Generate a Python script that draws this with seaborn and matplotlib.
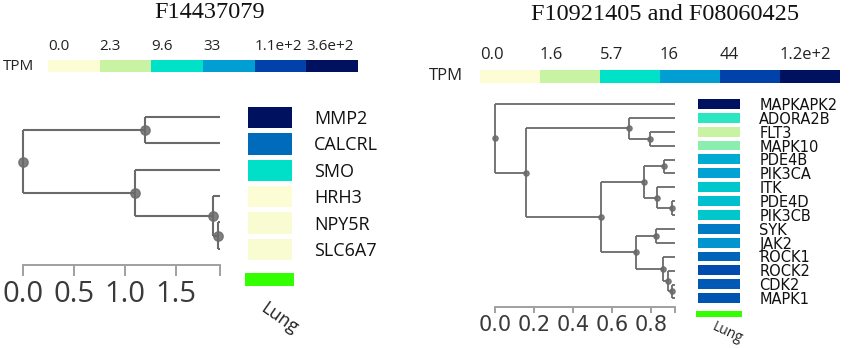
import numpy as np
import pandas as pd
import seaborn as sns
import matplotlib.pyplot as plt
from matplotlib.colors import LinearSegmentedColormap, ListedColormap

# ---- values ----
tissue = "Lung"
tpm_colors = ["#fdfdd5", "#c7f3a3", "#00e2c8", "#009ed3", "#0042a9", "#001160"]

left_title = "F14437079"
left_genes = ["MMP2", "CALCRL", "SMO", "HRH3", "NPY5R", "SLC6A7"]
left_tpm = [360, 66, 10, 0.0, 0.1, 0.1]
left_cbar_labels = ["0.0", "2.3", "9.6", "33", "1.1e+2", "3.6e+2"]
left_cbar_max = 360
# internal nodes n0..n4: distance from root and (child, child); ints are leaf rows
left_node_dist = [0.0, 1.20, 1.10, 1.866, 1.918]
left_node_kids = [("n1", "n2"), (0, 1), (2, "n3"), (3, "n4"), (4, 5)]
left_leaf_dist = 1.934
left_ticks = [0.0, 0.5, 1.0, 1.5]

right_title = "F10921405 and F08060425"
right_genes = ["MAPKAPK2", "ADORA2B", "FLT3", "MAPK10", "PDE4B", "PIK3CA", "ITK",
               "PDE4D", "PIK3CB", "SYK", "JAK2", "ROCK1", "ROCK2", "CDK2", "MAPK1"]
right_tpm = [120, 4.6, 1.6, 2.5, 13.7, 16, 9, 10, 9, 25, 18.6, 31, 41, 35, 37]
right_cbar_labels = ["0.0", "1.6", "5.7", "16", "44", "1.2e+2"]
right_cbar_max = 120
right_node_dist = [0.0, 0.157, 0.689, 0.795, 0.544, 0.766, 0.867, 0.832,
                   0.906, 0.723, 0.826, 0.860, 0.886, 0.906]
right_node_kids = [(0, "n1"), ("n2", "n4"), (1, "n3"), (2, 3), ("n5", "n9"),
                   ("n6", "n7"), (4, 5), (6, "n8"), (7, 8), ("n10", "n11"),
                   (9, 10), (11, "n12"), (12, "n13"), (13, 14)]
right_leaf_dist = 0.923
right_ticks = [0.0, 0.2, 0.4, 0.6, 0.8]

# ---- style ----
sns.set_style("white")
plt.rcParams["font.family"] = ["Open Sans", "DejaVu Sans"]

W, H = 858, 348
fig = plt.figure(figsize=(W / 100, H / 100), dpi=100)


def px_axes(x0, y0, x1, y1):
    return fig.add_axes([x0 / W, 1 - y1 / H, (x1 - x0) / W, (y1 - y0) / H])


def draw_tree(ax, node_dist, node_kids, leaf_dist, n_rows, ticks, lw, dot, col,
              tick_size, tick_family, tick_len, tick_pad):
    def place(k):
        if isinstance(k, int):
            return leaf_dist, k
        i = int(k[1:])
        (xa, ya), (xb, yb) = place(node_kids[i][0]), place(node_kids[i][1])
        x = node_dist[i]
        y = (ya + yb) / 2
        ax.plot([x, x], [ya, yb], color=col, lw=lw, solid_capstyle="butt", clip_on=False)
        ax.plot([x, xa], [ya, ya], color=col, lw=lw, solid_capstyle="butt", clip_on=False)
        ax.plot([x, xb], [yb, yb], color=col, lw=lw, solid_capstyle="butt", clip_on=False)
        ax.scatter([x], [y], s=dot, color=col, alpha=0.85, zorder=3, clip_on=False)
        return x, y

    place("n0")
    ax.set_xlim(0, leaf_dist)
    ax.set_ylim(n_rows - 0.38, -0.5)
    ax.set_yticks([])
    ax.set_xticks(ticks + [leaf_dist])
    ax.set_xticklabels([f"{t:.1f}" for t in ticks] + [""], family=tick_family)
    for side in ["left", "top", "right"]:
        ax.spines[side].set_visible(False)
    ax.spines["bottom"].set_color("#a0a0a0")
    ax.spines["bottom"].set_linewidth(1.4)
    ax.tick_params(axis="x", bottom=True, length=tick_len, width=1.4, color="#a0a0a0",
                   labelsize=tick_size, labelcolor="#3a3a3a", pad=tick_pad)


def draw_cells(ax, genes, tpm, vmax, lw, size, pad, family):
    df = pd.DataFrame({"TPM": np.log1p(tpm)}, index=genes)
    cmap = LinearSegmentedColormap.from_list("tpm", tpm_colors)
    sns.heatmap(df, ax=ax, cmap=cmap, vmin=0, vmax=np.log1p(vmax), cbar=False,
                linewidths=lw, linecolor="white", xticklabels=False, yticklabels=True)
    ax.set_ylabel("")
    ax.tick_params(axis="y", left=False, right=False, labelleft=False, labelright=True,
                   labelrotation=0, pad=pad, labelsize=size)
    for tk in ax.yaxis.get_major_ticks():
        tk.label2.set_family(family)
        tk.label2.set_color("#111111")


def draw_legend(ax, labels, size, lab_pad, tpm_pad):
    sns.heatmap(pd.DataFrame([np.arange(len(tpm_colors))]), ax=ax,
                cmap=ListedColormap(tpm_colors), cbar=False,
                xticklabels=False, yticklabels=False)
    ax.set_xticks(np.arange(len(labels)))
    ax.set_xticklabels(labels, ha="left")
    ax.xaxis.tick_top()
    ax.tick_params(axis="x", length=0, pad=lab_pad, labelsize=size, labelcolor="#222222")
    ax.set_ylabel("TPM", rotation=0, ha="right", va="center", fontsize=size,
                  labelpad=tpm_pad, color="#222222")


def draw_tissue(ax, size, rot, dx, dy):
    sns.heatmap(pd.DataFrame([[1]]), ax=ax, cmap=ListedColormap(["#33ff00"]),
                cbar=False, xticklabels=False, yticklabels=False)
    ax.annotate(tissue, xy=(0.5, 0), xycoords="axes fraction", xytext=(dx, dy),
                textcoords="offset pixels", rotation=rot, ha="center", va="center",
                fontsize=size, color="#222222")


# ---- left panel ----
fig.text(210 / W, 1 - 13 / H, left_title, ha="center", va="center",
         family="Liberation Serif", fontsize=17.5, color="#111111")
draw_legend(px_axes(48, 60, 358, 72), left_cbar_labels, 11, 4, 10)
draw_tree(px_axes(22.7, 104, 220, 265), left_node_dist, left_node_kids, left_leaf_dist,
          len(left_genes), left_ticks, 1.5, 45, "#6a6a6a", 21, "Open Sans", 8, 3)
draw_cells(px_axes(245, 104, 294, 262), left_genes, left_tpm, left_cbar_max,
           2.2, 13, 11, "Open Sans")
draw_tissue(px_axes(245, 273, 294, 286), 13, -35, 10, -32)

# ---- right panel ----
fig.text(665 / W, 1 - 15 / H, right_title, ha="center", va="center",
         family="Liberation Serif", fontsize=17.5, color="#111111")
draw_legend(px_axes(480, 70, 840, 83), right_cbar_labels, 12, 5, 12)
draw_tree(px_axes(495, 97, 675, 307), right_node_dist, right_node_kids, right_leaf_dist,
          len(right_genes), right_ticks, 1.3, 14, "#6a6a6a", 15, "DejaVu Sans", 4, 2)
draw_cells(px_axes(696, 97, 742, 305), right_genes, right_tpm, right_cbar_max,
           1.5, 10.5, 9, "DejaVu Sans")
draw_tissue(px_axes(696, 311, 742, 317), 10, -25, 8, -16)

fig.savefig("out.png", dpi=100)
